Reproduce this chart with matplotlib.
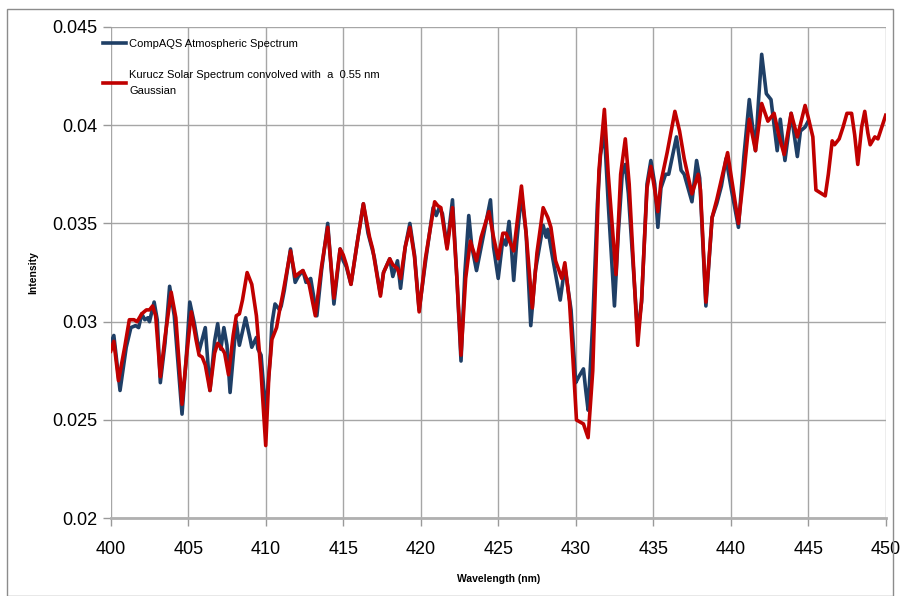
import matplotlib
matplotlib.use("Agg")
import matplotlib.pyplot as plt
from matplotlib.patches import Rectangle

# CompAQS atmospheric spectrum
compaqs_wl = [400.0, 400.2, 400.6, 401.0, 401.3, 401.6, 401.8, 402.0, 402.2, 402.4,
              402.5, 402.8, 403.0, 403.2, 403.5, 403.8, 404.1, 404.6, 404.9, 405.1,
              405.4, 405.7, 406.1, 406.4, 406.7, 406.9, 407.1, 407.3, 407.5, 407.7,
              407.9, 408.1, 408.3, 408.7, 409.0, 409.1, 409.4, 409.5, 409.7, 410.0,
              410.3, 410.4, 410.6, 410.9, 411.0, 411.2, 411.6, 411.9, 412.1, 412.4,
              412.6, 412.9, 413.3, 413.6, 414.0, 414.4, 414.8, 415.0, 415.2, 415.5,
              415.9, 416.3, 416.6, 416.8, 417.0, 417.4, 417.6, 418.0, 418.2, 418.5,
              418.7, 419.0, 419.3, 419.6, 419.9, 420.3, 420.8, 421.0, 421.2, 421.4,
              421.7, 422.05, 422.35, 422.6, 422.85, 423.1, 423.3, 423.6, 423.9, 424.5,
              424.7, 425.0, 425.3, 425.5, 425.7, 425.85, 426.0, 426.2, 426.5, 426.8,
              427.1, 427.4, 427.9, 428.1, 428.2, 428.5, 429.0, 429.3, 429.7, 430.0,
              430.2, 430.5, 430.65, 430.8, 431.1, 431.4, 431.6, 431.85, 432.1, 432.5,
              432.75, 433.0, 433.2, 433.4, 434.0, 434.25, 434.6, 434.85, 435.1, 435.3,
              435.5, 435.8, 436.0, 436.5, 436.8, 437.0, 437.5, 437.8, 438.0, 438.4,
              438.8, 439.1, 439.4, 439.7, 440.05, 440.5, 440.85, 441.2, 441.6, 441.8,
              442.0, 442.3, 442.6, 443.0, 443.2, 443.5, 443.9, 444.3, 444.5, 444.8,
              445.0]
compaqs_int = [0.0289, 0.0293, 0.0265, 0.0287, 0.0297, 0.0298, 0.0297, 0.0304, 0.0301, 0.0302,
               0.0300, 0.0310, 0.0301, 0.0269, 0.0289, 0.0318, 0.0303, 0.0253, 0.0285, 0.0310,
               0.0299, 0.0285, 0.0297, 0.0265, 0.0290, 0.0299, 0.0286, 0.0297, 0.0288, 0.0264,
               0.0282, 0.0300, 0.0288, 0.0302, 0.0291, 0.0287, 0.0292, 0.0286, 0.0283, 0.0253,
               0.0283, 0.0299, 0.0309, 0.0306, 0.0308, 0.0316, 0.0337, 0.0320, 0.0323, 0.0326,
               0.0320, 0.0322, 0.0303, 0.0326, 0.0350, 0.0309, 0.0337, 0.0331, 0.0328, 0.0319,
               0.0340, 0.0360, 0.0345, 0.0339, 0.0333, 0.0314, 0.0325, 0.0332, 0.0323, 0.0331,
               0.0317, 0.0338, 0.0350, 0.0334, 0.0306, 0.0330, 0.0358, 0.0354, 0.0358, 0.0355,
               0.0338, 0.0362, 0.0320, 0.0280, 0.0325, 0.0354, 0.0338, 0.0326, 0.0338, 0.0362,
               0.0338, 0.0322, 0.0342, 0.0339, 0.0351, 0.0338, 0.0321, 0.0341, 0.0365, 0.0345,
               0.0298, 0.0326, 0.0349, 0.0343, 0.0347, 0.0333, 0.0311, 0.0328, 0.0306, 0.0269,
               0.0272, 0.0276, 0.0265, 0.0255, 0.0300, 0.0360, 0.0385, 0.0397, 0.0360, 0.0308,
               0.0345, 0.0375, 0.0380, 0.0365, 0.0294, 0.0310, 0.0370, 0.0382, 0.0370, 0.0348,
               0.0368, 0.0375, 0.0375, 0.0394, 0.0377, 0.0375, 0.0361, 0.0382, 0.0373, 0.0308,
               0.0353, 0.0360, 0.0369, 0.0383, 0.0367, 0.0348, 0.0384, 0.0413, 0.0387, 0.0413,
               0.0436, 0.0416, 0.0413, 0.0387, 0.0403, 0.0382, 0.0406, 0.0384, 0.0397, 0.0399,
               0.0402]

# Kurucz solar spectrum convolved with 0.55 nm gaussian
kurucz_wl = [400.0, 400.2, 400.5, 400.9, 401.2, 401.5, 401.7, 402.0, 402.3, 402.5,
             402.7, 402.9, 403.2, 403.5, 403.9, 404.2, 404.6, 404.9, 405.2, 405.5,
             405.7, 405.9, 406.1, 406.4, 406.7, 406.9, 407.2, 407.35, 407.6, 407.9,
             408.1, 408.3, 408.5, 408.8, 409.1, 409.4, 409.7, 410.0, 410.2, 410.4,
             410.7, 410.9, 411.1, 411.6, 411.9, 412.2, 412.4, 412.8, 413.2, 413.6,
             414.0, 414.4, 414.8, 415.0, 415.2, 415.5, 415.9, 416.3, 416.7, 416.9,
             417.4, 417.6, 418.0, 418.2, 418.5, 418.7, 419.0, 419.3, 419.6, 419.9,
             420.3, 420.9, 421.1, 421.3, 421.7, 422.05, 422.35, 422.6, 422.9, 423.2,
             423.6, 423.9, 424.4, 424.7, 425.0, 425.3, 425.5, 426.0, 426.5, 426.8,
             427.2, 427.5, 427.9, 428.2, 428.4, 428.7, 429.1, 429.3, 429.6, 429.8,
             430.05, 430.5, 430.8, 431.1, 431.3, 431.5, 431.85, 432.1, 432.6, 432.9,
             433.2, 433.45, 434.0, 434.25, 434.6, 434.85, 435.1, 435.3, 435.5, 435.9,
             436.4, 436.7, 437.0, 437.5, 437.9, 438.05, 438.4, 438.8, 439.1, 439.8,
             440.05, 440.5, 440.85, 441.2, 441.6, 442.0, 442.4, 442.8, 443.1, 443.45,
             443.9, 444.3, 444.8, 445.0, 445.3, 445.5, 445.9, 446.1, 446.3, 446.55,
             446.7, 447.0, 447.25, 447.5, 447.8, 448.0, 448.2, 448.45, 448.65, 448.85,
             449.0, 449.3, 449.5, 449.75, 450.0]
kurucz_int = [0.0285, 0.0290, 0.0270, 0.0287, 0.0301, 0.0301, 0.0300, 0.0304, 0.0306, 0.0306,
              0.0308, 0.0303, 0.0272, 0.0292, 0.0315, 0.0302, 0.0258, 0.0283, 0.0305, 0.0291,
              0.0283, 0.0282, 0.0278, 0.0265, 0.0284, 0.0289, 0.0286, 0.0284, 0.0273, 0.0293,
              0.0303, 0.0304, 0.0311, 0.0325, 0.0319, 0.0303, 0.0274, 0.0237, 0.0272, 0.0291,
              0.0297, 0.0306, 0.0314, 0.0336, 0.0323, 0.0325, 0.0326, 0.0319, 0.0303, 0.0328,
              0.0348, 0.0312, 0.0337, 0.0334, 0.0329, 0.0319, 0.0340, 0.0360, 0.0343, 0.0337,
              0.0313, 0.0325, 0.0332, 0.0329, 0.0327, 0.0322, 0.0338, 0.0348, 0.0333, 0.0305,
              0.0332, 0.0361, 0.0359, 0.0358, 0.0337, 0.0358, 0.0320, 0.0283, 0.0322, 0.0341,
              0.0331, 0.0343, 0.0356, 0.0343, 0.0332, 0.0345, 0.0345, 0.0336, 0.0369, 0.0345,
              0.0307, 0.0335, 0.0358, 0.0353, 0.0348, 0.0331, 0.0322, 0.0330, 0.0310, 0.0284,
              0.0250, 0.0248, 0.0241, 0.0275, 0.0326, 0.0377, 0.0408, 0.0375, 0.0324, 0.0375,
              0.0393, 0.0370, 0.0288, 0.0311, 0.0368, 0.0379, 0.0367, 0.0356, 0.0371, 0.0386,
              0.0407, 0.0397, 0.0383, 0.0365, 0.0375, 0.0367, 0.0310, 0.0353, 0.0362, 0.0386,
              0.0373, 0.0350, 0.0375, 0.0403, 0.0387, 0.0411, 0.0402, 0.0406, 0.0395, 0.0385,
              0.0406, 0.0394, 0.0410, 0.0404, 0.0394, 0.0367, 0.0365, 0.0364, 0.0375, 0.0392,
              0.0390, 0.0393, 0.0399, 0.0406, 0.0406, 0.0395, 0.0380, 0.0399, 0.0407, 0.0396,
              0.0390, 0.0394, 0.0393, 0.0399, 0.0405]

xticks = [400, 405, 410, 415, 420, 425, 430, 435, 440, 445, 450]
yticks = [0.02, 0.025, 0.03, 0.035, 0.04, 0.045]
ytick_labels = ["0.02", "0.025", "0.03", "0.035", "0.04", "0.045"]

plt.rcParams['font.family'] = ['Liberation Sans', 'DejaVu Sans']

fig = plt.figure(figsize=(9.01, 5.96), dpi=100)
ax = fig.add_axes([0.1229, 0.1304, 0.983 - 0.1229, 0.955 - 0.1304])

# border round the whole chart
fig.patches.append(Rectangle((7 / 901, 0.0), 886 / 901, 1 - 9 / 596, transform=fig.transFigure,
                             fill=False, edgecolor='#8c8c8c', linewidth=1.0))

ax.plot(compaqs_wl, compaqs_int, color='#1f3f66', lw=2.6, solid_joinstyle='round',
        label='CompAQS Atmospheric Spectrum', zorder=3)
ax.plot(kurucz_wl, kurucz_int, color='#c00000', lw=2.6, solid_joinstyle='round',
        label='Kurucz Solar Spectrum convolved with  a  0.55 nm\nGaussian', zorder=4)

ax.set_xlim(400, 450)
ax.set_ylim(0.02, 0.045)
ax.set_xticks(xticks)
ax.set_yticks(yticks)
ax.set_yticklabels(ytick_labels)
ax.tick_params(axis='both', labelsize=13, color='#999999', length=6, width=1)
ax.tick_params(axis='x', pad=10)
ax.grid(True, color='#a6a6a6', linewidth=1.0)
ax.set_axisbelow(True)
for s in ['top', 'right', 'left']:
    ax.spines[s].set_visible(False)
ax.spines['bottom'].set_color('#b0b0b0')
ax.spines['bottom'].set_linewidth(2)

ax.set_xlabel('Wavelength (nm)', fontsize=7.5, fontweight='bold', labelpad=12)
ax.set_ylabel('Intensity', fontsize=7.5, fontweight='bold', labelpad=10)

leg = ax.legend(loc='upper left', bbox_to_anchor=(103 / 901, 1 - 39 / 596), bbox_transform=fig.transFigure,
                frameon=False, fontsize=8, handlelength=2.1, handletextpad=0.25, labelspacing=1.9,
                borderpad=0, borderaxespad=0)
for t in leg.get_texts():
    t.set_linespacing(1.75)

fig.savefig('out.png', dpi=100)
